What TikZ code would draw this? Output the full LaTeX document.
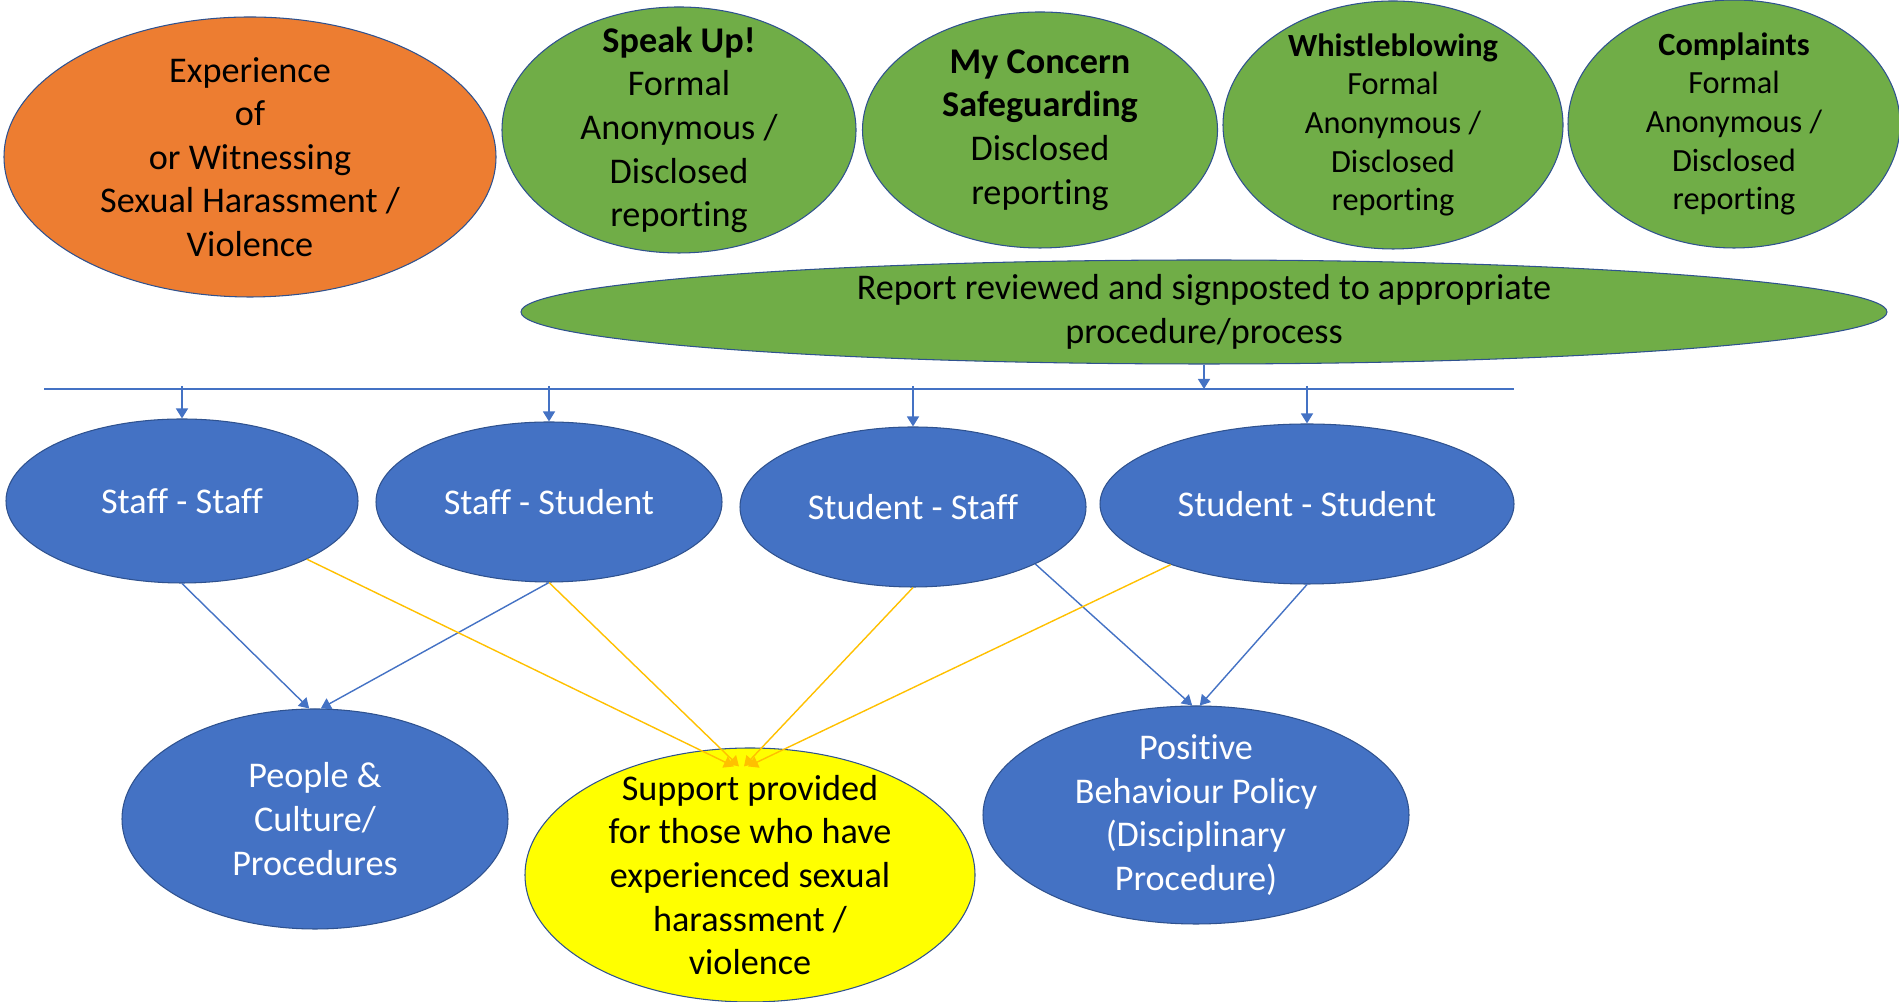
\documentclass[tikz,border=0pt]{standalone}
\usepackage{fontspec}
\setmainfont{Carlito}[RawFeature={-liga;-calt;-clig;-dlig}]
\usepackage{xcolor}
\usepackage{tikz}
\usetikzlibrary{shapes,arrows,positioning,calc,arrows.meta}

\definecolor{shOrange}{HTML}{ED7D31}
\definecolor{shGreen}{HTML}{70AD47}
\definecolor{shBlue}{HTML}{4472C4}
\definecolor{shYellow}{HTML}{FFFF00}
\definecolor{shGold}{HTML}{FFC000}
\definecolor{shEdge}{HTML}{2F528F}

\begin{document}
\begin{tikzpicture}[
    bubble/.style={ellipse, draw=shEdge, line width=0.3pt, inner sep=-1.5cm, align=center, font=\fontsize{10.3}{12.4}\selectfont},
    smalltext/.style={font=\fontsize{9.2}{11}\selectfont},
    bluebub/.style={bubble, fill=shBlue, text=white},
    bluearr/.style={draw=shBlue, line width=0.4pt, -{Triangle[width=1.2mm,length=1mm]}},
    goldarr/.style={draw=shGold, line width=0.4pt, -{Triangle[width=1.2mm,length=1mm]}}
]
    \useasboundingbox (0,0) rectangle (18.99,10.02);

    % Reporting routes
    \node[bubble, fill=shOrange, minimum width=4.92cm, minimum height=2.80cm] (exp) at (2.50,8.45) {Experience\\of\\or Witnessing\\Sexual Harassment /\\Violence};
    \node[bubble, fill=shGreen, minimum width=3.54cm, minimum height=2.46cm] (speak) at (6.79,8.72) {\textbf{Speak Up!}\\Formal\\Anonymous /\\Disclosed\\reporting};
    \node[bubble, fill=shGreen, minimum width=3.55cm, minimum height=2.36cm] (concern) at (10.40,8.72) {\textbf{My Concern}\\\textbf{Safeguarding}\\Disclosed\\reporting};
    \node[bubble, smalltext, fill=shGreen, minimum width=3.40cm, minimum height=2.48cm] (whistle) at (13.93,8.77) {\textbf{Whistleblowing}\\Formal\\Anonymous /\\Disclosed\\reporting};
    \node[bubble, smalltext, fill=shGreen, minimum width=3.32cm, minimum height=2.48cm] (compl) at (17.34,8.78) {\textbf{Complaints}\\Formal\\Anonymous /\\Disclosed\\reporting};
    \node[bubble, fill=shGreen, minimum width=13.66cm, minimum height=1.04cm] (report) at (12.04,6.90) {Report reviewed and signposted to appropriate\\procedure/process};

    % Distribution line
    \coordinate (busL) at (0.44,6.13);
    \coordinate (busR) at (15.14,6.13);
    \draw[shBlue, line width=0.45pt] (busL) -- (busR);
    \draw[bluearr] (report.south) -- (report.south |- busL);

    % Who is involved
    \node[bluebub, minimum width=3.52cm, minimum height=1.64cm] (ss) at (1.82,5.01) {Staff - Staff};
    \node[bluebub, minimum width=3.46cm, minimum height=1.60cm] (sst) at (5.49,5.00) {Staff - Student};
    \node[bluebub, minimum width=3.46cm, minimum height=1.60cm] (sts) at (9.13,4.95) {Student - Staff};
    \node[bluebub, minimum width=4.14cm, minimum height=1.60cm] (stst) at (13.07,4.98) {Student - Student};
    \foreach \n in {ss,sst,sts,stst}
        \draw[bluearr] ($(\n.north |- busL)+(0,0.03)$) -- (\n.north);

    % Outcomes
    \node[bluebub, minimum width=3.86cm, minimum height=2.20cm] (pc) at (3.15,1.83) {People \&\\Culture/\\Procedures};
    \node[bubble, fill=shYellow, minimum width=4.50cm, minimum height=2.54cm] (sup) at (7.50,1.27) {Support provided\\for those who have\\experienced sexual\\harassment /\\violence};
    \node[bluebub, minimum width=4.26cm, minimum height=2.18cm] (pos) at (11.96,1.87) {Positive\\Behaviour Policy\\(Disciplinary\\Procedure)};

    \draw[bluearr] (ss.south) -- (pc.93);
    \draw[bluearr] (sst.south) -- (pc.87);
    \draw[bluearr] (sts.-25) -- (pos.92);
    \draw[bluearr] (stst.south) -- (pos.88);
    \foreach \n/\a/\dx in {ss/-25/-0.16, sst/south/-0.11, sts/south/-0.06, stst/-156/-0.02}
        \draw[goldarr] (\n.\a) -- ($(sup.north)+(\dx,-0.19)$);
\end{tikzpicture}
\end{document}
